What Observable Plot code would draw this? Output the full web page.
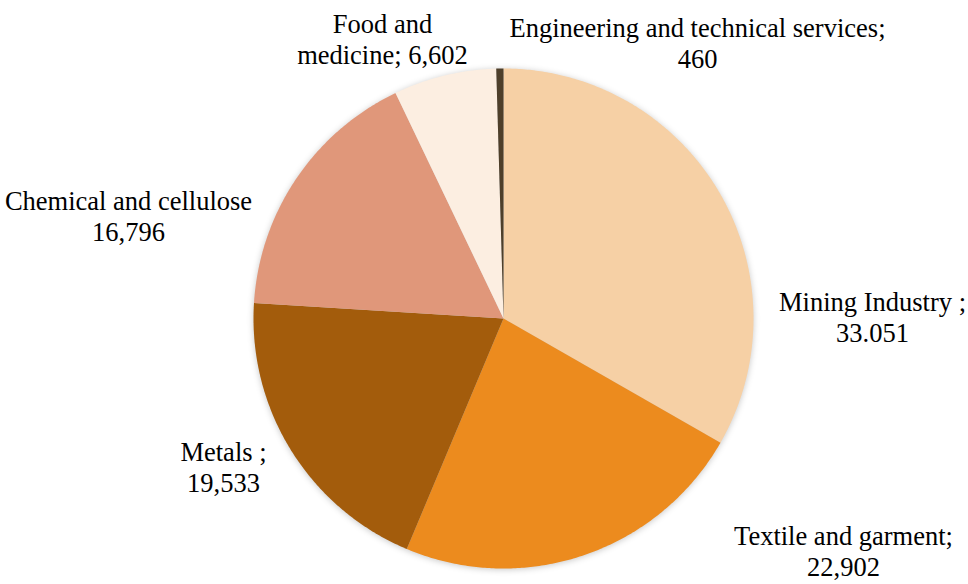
<!DOCTYPE html>
<html>
<head>
<meta charset="utf-8">
<script src="https://cdn.jsdelivr.net/npm/d3@7"></script>
<script src="https://cdn.jsdelivr.net/npm/@observablehq/plot@0.6"></script>
<style>
  html, body { margin: 0; padding: 0; background: #ffffff; }
  #chart svg g[aria-label="line"] { filter: drop-shadow(0px 1px 3px rgba(0,0,0,0.22)); }
</style>
</head>
<body>
<div id="chart"></div>
<script>
// ---- data ----
const categories = ["Mining Industry", "Textile and garment", "Metals", "Chemical and cellulose", "Food and medicine", "Engineering and technical services"];
const values = [33051, 22902, 19533, 16796, 6602, 460];
const labelLine1 = ["Mining Industry ;", "Textile and garment;", "Metals ;", "Chemical and cellulose", "Food and", "Engineering and technical services;"];
const labelLine2 = ["33.051", "22,902", "19,533", "16,796", "medicine; 6,602", "460"];
const colors = ["#F6D0A5", "#EC8B1E", "#A35C0C", "#E0977A", "#FCEEE1", "#4E3F2A"];

// ---- layout (label anchors in unit-circle coordinates) ----
const labelX = [1.476, 1.36, -1.12, -1.5, -0.484, 0.776];
const labelY = [0.0, -0.936, -0.6, 0.404, 1.112, 1.096];

// ---- build slice polygons from d3.pie ----
const pie = d3.pie().sort(null).value(d => d.value);
const arcs = pie(categories.map((c, i) => ({cat: c, value: values[i]})));
const pts = [];
for (const a of arcs) {
  const cat = a.data.cat;
  pts.push({cat, x: 0, y: 0});
  const n = Math.max(2, Math.ceil((a.endAngle - a.startAngle) / (Math.PI / 360)));
  for (let k = 0; k <= n; k++) {
    const t = a.startAngle + (a.endAngle - a.startAngle) * k / n;
    pts.push({cat, x: Math.sin(t), y: Math.cos(t)});
  }
}
const labels = categories.map((c, i) => ({cat: c, l1: labelLine1[i], l2: labelLine2[i], x: labelX[i], y: labelY[i]}));

const font = "Liberation Serif";
const chart = Plot.plot({
  width: 968,
  height: 584,
  marginLeft: 253,
  marginRight: 215,
  marginTop: 68,
  marginBottom: 16,
  x: {domain: [-1, 1], axis: null},
  y: {domain: [-1, 1], axis: null},
  color: {domain: categories, range: colors},
  marks: [
    Plot.line(pts, {x: "x", y: "y", z: "cat", fill: "cat", stroke: "none", curve: "linear-closed"}),
    Plot.text(labels, {x: "x", y: "y", text: "l1", dy: -15.5, fontSize: 26.5, fill: "#000000", textAnchor: "middle", fontFamily: font}),
    Plot.text(labels, {x: "x", y: "y", text: "l2", dy: 15.5, fontSize: 26.5, fill: "#000000", textAnchor: "middle", fontFamily: font})
  ]
});
document.getElementById("chart").appendChild(chart);
</script>
</body>
</html>
